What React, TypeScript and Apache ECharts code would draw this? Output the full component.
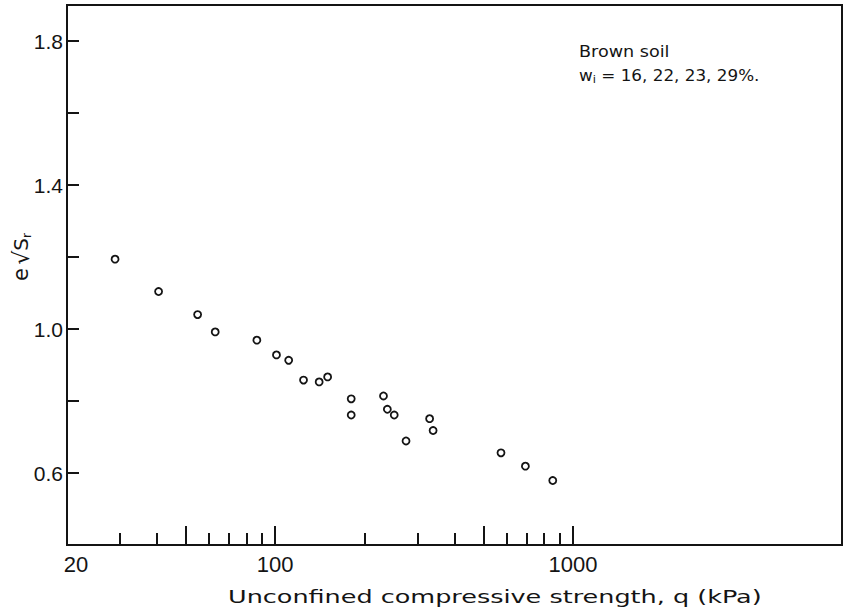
import React, { useEffect, useRef } from 'react';
import * as echarts from 'echarts';

// Unconfined compressive strength q (kPa)
const qValues = [29.0, 40.6, 54.9, 62.9, 86.8, 101, 111, 124.5, 140.5, 150, 180, 180, 231, 238, 251, 275, 330, 339, 573, 692, 855];
// e * sqrt(Sr)
const eSrValues = [1.194, 1.104, 1.04, 0.992, 0.969, 0.928, 0.913, 0.858, 0.853, 0.867, 0.806, 0.761, 0.814, 0.777, 0.761, 0.689, 0.751, 0.718, 0.656, 0.619, 0.579];

const xMajorTicks = [50, 100, 500, 1000];
const xMinorTicks = [30, 40, 60, 70, 80, 90, 200, 300, 400, 600, 700, 800, 900];
const xTickLabels = [20, 100, 1000];
const yTicks = [0.6, 0.8, 1.0, 1.2, 1.4, 1.6, 1.8];
const yTickLabels = [0.6, 1.0, 1.4, 1.8];

const xTitle = 'Unconfined compressive strength, q (kPa)';
const noteTitle = 'Brown soil';
const noteWater = ['16', '22', '23', '29'];

export default function App() {
  const ref = useRef<HTMLDivElement>(null);
  useEffect(() => {
    const chart = echarts.init(ref.current as HTMLDivElement, null, { renderer: 'svg' });
    const points = qValues.map((q, i) => [q, eSrValues[i]]);
    const ink = '#141414';
    const baseX: any = {
      type: 'log',
      logBase: 10,
      min: 20,
      max: 8000,
      gridIndex: 0,
      position: 'bottom',
      splitLine: { show: false },
      minorTick: { show: false },
    };
    chart.setOption({
      animation: false,
      backgroundColor: '#ffffff',
      grid: {
        left: 67,
        right: 10,
        top: 5,
        bottom: 67,
        show: true,
        borderColor: ink,
        borderWidth: 2,
        containLabel: false,
        outerBoundsMode: 'none',
      },
      xAxis: [
        {
          ...baseX,
          axisLine: { show: true, lineStyle: { color: ink, width: 2 } },
          axisTick: { show: true, inside: true, length: 19, customValues: xMajorTicks, lineStyle: { color: ink, width: 2 } },
          axisLabel: {
            show: true,
            customValues: xTickLabels,
            formatter: (v: number) => {
              const n = Math.round(v);
              return n === 20 ? '{first|' + n + '}' : String(n);
            },
            color: ink,
            fontSize: 22,
            fontFamily: 'Liberation Sans',
            margin: 8,
            rich: {
              first: { fontSize: 22, fontFamily: 'Liberation Sans', color: ink, padding: [0, 0, 0, 18] },
            },
          },
        },
        {
          ...baseX,
          axisLine: { show: false },
          axisTick: { show: true, inside: true, length: 12, customValues: xMinorTicks, lineStyle: { color: ink, width: 2 } },
          axisLabel: { show: false },
        },
      ],
      yAxis: {
        type: 'value',
        min: 0.4,
        max: 1.9,
        splitLine: { show: false },
        axisLine: { show: true, lineStyle: { color: ink, width: 2 } },
        axisTick: { show: true, inside: true, length: 12, customValues: yTicks, lineStyle: { color: ink, width: 2 } },
        axisLabel: {
          show: true,
          customValues: yTickLabels,
          formatter: (v: number) => v.toFixed(1),
          color: ink,
          fontSize: 21,
          fontFamily: 'Liberation Sans',
          margin: 4,
        },
        name: '{e|e} {r|√}{s|S}{sub|r}',
        nameLocation: 'middle',
        nameGap: 34,
        nameMoveOverlap: false,
        nameTextStyle: {
          color: ink,
          padding: [0, 0, 0, 36],
          rich: {
            e: { fontSize: 21, fontFamily: 'DejaVu Sans', color: ink, lineHeight: 24 },
            r: { fontSize: 22, fontFamily: 'DejaVu Sans', color: ink, lineHeight: 24 },
            s: { fontSize: 20, fontFamily: 'DejaVu Sans', color: ink, lineHeight: 24 },
            sub: { fontSize: 12, fontFamily: 'DejaVu Sans', color: ink, lineHeight: 12, verticalAlign: 'bottom' },
          },
        },
      },
      graphic: [
        {
          type: 'text',
          x: 228,
          y: 597,
          scaleX: 1.5,
          style: {
            text: xTitle,
            fontSize: 17,
            fontFamily: 'DejaVu Sans',
            fill: ink,
            textAlign: 'left',
            textVerticalAlign: 'middle',
          },
        },
        {
          type: 'text',
          x: 579,
          y: 51,
          scaleX: 1.1,
          style: {
            text: noteTitle,
            fontSize: 16,
            fontFamily: 'DejaVu Sans',
            fill: ink,
            textAlign: 'left',
            textVerticalAlign: 'middle',
          },
        },
        {
          type: 'text',
          x: 579,
          y: 76,
          scaleX: 1.05,
          style: {
            text: '{w|w}{i|i}{t| = ' + noteWater.join(', ') + '%.}',
            fill: ink,
            textAlign: 'left',
            textVerticalAlign: 'middle',
            rich: {
              w: { fontSize: 16, fontFamily: 'DejaVu Sans', fill: ink, lineHeight: 19 },
              i: { fontSize: 11, fontFamily: 'DejaVu Sans', fill: ink, lineHeight: 11, verticalAlign: 'bottom' },
              t: { fontSize: 16, fontFamily: 'DejaVu Sans', fill: ink, lineHeight: 19 },
            },
          },
        },
      ],
      series: [
        {
          type: 'scatter',
          xAxisIndex: 0,
          yAxisIndex: 0,
          data: points,
          symbol: 'circle',
          symbolSize: 7,
          itemStyle: { color: '#ffffff', borderColor: ink, borderWidth: 1.8, opacity: 1 },
        },
      ],
    });
    return () => chart.dispose();
  }, []);
  return (
    <div
      ref={ref}
      style={{ position: 'absolute', left: 0, top: 0, width: 852, height: 612, background: '#ffffff' }}
    />
  );
}
